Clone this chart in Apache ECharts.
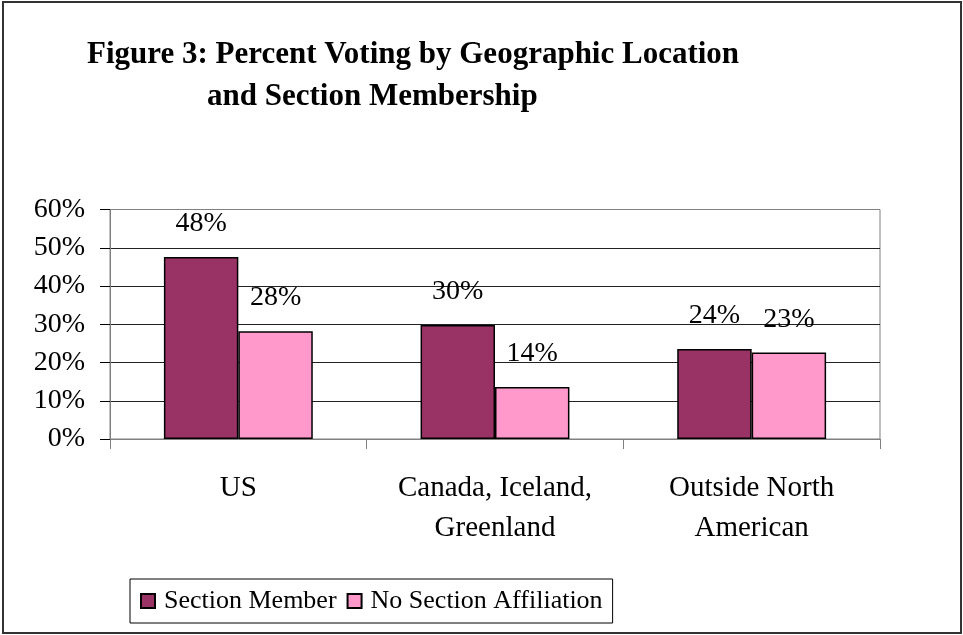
<!DOCTYPE html>
<html>
<head>
<meta charset="utf-8">
<script src="https://cdn.jsdelivr.net/npm/echarts@6/dist/echarts.min.js"></script>
<style>
  html, body { margin: 0; padding: 0; background: #fff; }
  #main { width: 963px; height: 635px; }
</style>
</head>
<body>
<div id="main"></div>
<script>
(function () {
  let categories = ['US', 'Canada, Iceland,\nGreenland', 'Outside North\nAmerican'];
  let memberValues = [47.6, 29.8, 23.5];
  let noSectionValues = [28.2, 13.6, 22.6];
  let seriesNames = ['Section Member', 'No Section Affiliation'];
  let titleLines = ['Figure 3: Percent Voting by Geographic Location', 'and Section Membership'];

  let serif = '"Liberation Serif", "Times New Roman", serif';

  let myChart = echarts.init(document.getElementById('main'));

  let labelStyle = {
    show: true,
    position: 'top',
    distance: 19,
    fontFamily: serif,
    fontSize: 28,
    color: '#000',
    formatter: function (p) { return Math.round(p.value) + '%'; }
  };

  let option = {
    backgroundColor: '#fff',
    animation: false,
    title: [
      {
        text: titleLines[0],
        left: 82, top: 34,
        textStyle: { fontFamily: serif, fontWeight: 'bold', fontSize: 31, color: '#000' }
      },
      {
        text: titleLines[1],
        left: 202, top: 76,
        textStyle: { fontFamily: serif, fontWeight: 'bold', fontSize: 31, color: '#000' }
      }
    ],
    legend: {
      left: 130, top: 579,
      padding: [9, 10, 9, 10],
      borderColor: '#000',
      borderWidth: 1,
      itemWidth: 14, itemHeight: 14,
      itemGap: 10,
      icon: 'rect',
      textStyle: { fontFamily: serif, fontSize: 26, color: '#000', padding: [0, 0, 0, 4] },
      data: seriesNames
    },
    grid: {
      left: 110, right: 83, top: 209.5, bottom: 196,
      show: true,
      borderColor: '#808080',
      borderWidth: 1,
      containLabel: false
    },
    xAxis: {
      type: 'category',
      data: categories,
      axisLine: { show: true, lineStyle: { color: '#808080', width: 1 } },
      axisTick: { show: true, length: 10, interval: 0, lineStyle: { color: '#808080' } },
      axisLabel: {
        interval: 0,
        margin: 29,
        fontFamily: serif,
        fontSize: 29,
        lineHeight: 40,
        color: '#000'
      }
    },
    yAxis: {
      type: 'value',
      min: 0, max: 60, interval: 10,
      axisLine: { show: true, lineStyle: { color: '#808080', width: 1 } },
      axisTick: { show: true, length: 10, lineStyle: { color: '#000' } },
      splitLine: { show: true, lineStyle: { color: ['#808080', '#222', '#222', '#222', '#222', '#222', '#808080'], width: 1 } },
      axisLabel: {
        margin: 25,
        fontFamily: serif,
        fontSize: 28,
        color: '#000',
        formatter: '{value}%'
      }
    },
    series: [
      {
        name: seriesNames[0],
        type: 'bar',
        data: memberValues,
        barGap: '0%',
        barCategoryGap: '42%',
        itemStyle: { color: '#993366', borderColor: '#000', borderWidth: 1.5 },
        label: labelStyle
      },
      {
        name: seriesNames[1],
        type: 'bar',
        data: noSectionValues,
        itemStyle: { color: '#FF99CC', borderColor: '#000', borderWidth: 1.5 },
        label: labelStyle
      }
    ],
    graphic: [
      {
        type: 'rect',
        shape: { x: 3, y: 2, width: 958, height: 631 },
        style: { fill: 'none', stroke: '#333', lineWidth: 2 },
        silent: true
      }
    ]
  };

  myChart.setOption(option);
  window.addEventListener('resize', function () {
    myChart.resize();
  });
})();
</script>
</body>
</html>
